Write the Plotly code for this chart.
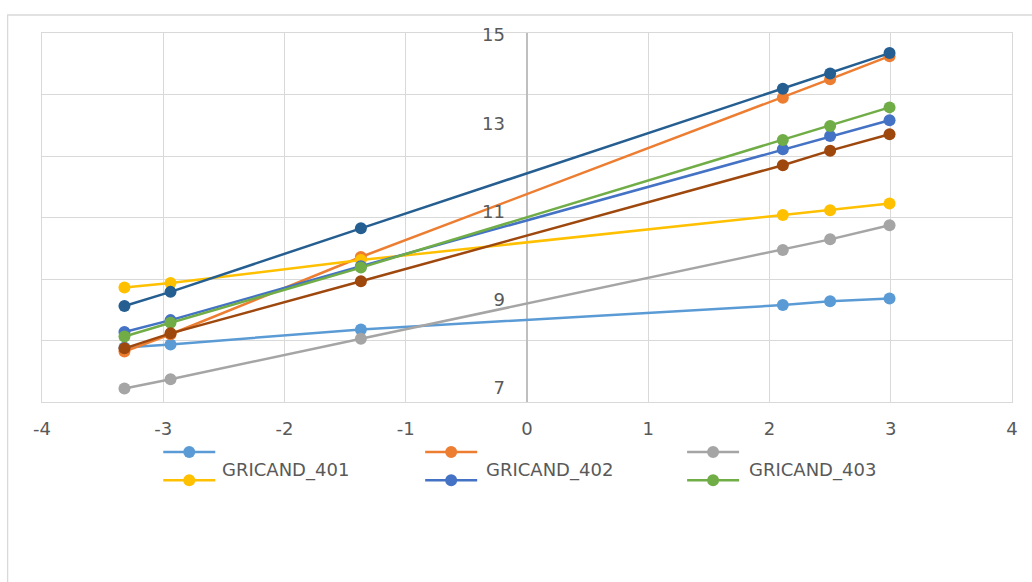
import plotly.graph_objects as go

# Shared x positions of the measurements
x_vals = [-3.32, -2.94, -1.37, 2.11, 2.50, 2.99]

# Series values (in draw order)
s_light_blue = [7.92, 7.99, 8.33, 8.88, 8.97, 9.03]
s_orange = [7.83, 8.22, 9.97, 13.58, 14.00, 14.52]
s_gray = [6.99, 7.20, 8.12, 10.13, 10.37, 10.69]
s_yellow = [9.28, 9.38, 9.90, 10.92, 11.03, 11.18]
s_blue = [8.27, 8.54, 9.76, 12.41, 12.71, 13.07]
s_green = [8.17, 8.48, 9.73, 12.62, 12.94, 13.36]
s_dark_blue = [8.86, 9.18, 10.62, 13.78, 14.13, 14.59]
s_brown = [7.90, 8.24, 9.42, 12.05, 12.38, 12.75]

series = [s_light_blue, s_orange, s_gray, s_yellow, s_blue, s_green, s_dark_blue, s_brown]
colors = ["#5B9BD5", "#ED7D31", "#A5A5A5", "#FFC000", "#4472C4", "#70AD47", "#255E91", "#9E480E"]

# Axis labels
x_ticks = [-4, -3, -2, -1, 0, 1, 2, 3, 4]
y_ticks = [7, 9, 11, 13, 15]
legend_labels = ["GRICAND_401", "GRICAND_402", "GRICAND_403"]

W, H = 1032, 582
L, R, T, B = 41.7, 1012.0, 33.0, 401.7  # plot-area edges in px

FONT = "DejaVu Sans"
TXT = "#595959"
GRID = "#d9d9d9"


def px_x(p):
    return (p - L) / (R - L)


def px_y(p):
    return (B - p) / (B - T)


fig = go.Figure()

for vals, col in zip(series, colors):
    fig.add_trace(go.Scatter(
        x=x_vals, y=vals, mode="lines+markers",
        line=dict(color=col, width=2.5),
        marker=dict(color=col, size=12, line=dict(width=0)),
        showlegend=False, hoverinfo="skip",
    ))

# empty trace so the grid axis is rendered
fig.add_trace(go.Scatter(x=[], y=[], yaxis="y2", showlegend=False))

shapes = []
# outer chart frame
shapes.append(dict(type="rect", xref="paper", yref="paper",
                   x0=px_x(7.3), x1=px_x(1060), y0=px_y(620), y1=px_y(15),
                   line=dict(color=GRID, width=1.3), fillcolor="rgba(0,0,0,0)", layer="below"))

# legend samples: three columns, series c on the top row and c+3 below it
col_starts = [163, 425, 687]
row_ys = [451.7, 480.0]
for c in range(3):
    for r in range(2):
        col = colors[c + 3 * r]
        x0 = col_starts[c]
        y = row_ys[r]
        shapes.append(dict(type="line", xref="paper", yref="paper",
                           x0=px_x(x0), x1=px_x(x0 + 52), y0=px_y(y), y1=px_y(y),
                           line=dict(color=col, width=2.5)))
        cx = x0 + 26
        shapes.append(dict(type="circle", xref="paper", yref="paper",
                           x0=px_x(cx - 6), x1=px_x(cx + 6), y0=px_y(y + 6), y1=px_y(y - 6),
                           line=dict(color=col, width=0), fillcolor=col))

annotations = []
text_starts = [220, 484, 747]
for lab, xs in zip(legend_labels, text_starts):
    annotations.append(dict(x=px_x(xs), y=px_y(469.3), xref="paper", yref="paper",
                            text=lab, showarrow=False, xanchor="left", yanchor="middle",
                            font=dict(family=FONT, size=18, color=TXT)))

fig.update_layout(
    width=W, height=H,
    margin=dict(l=L, r=W - R, t=T, b=H - B, pad=0),
    paper_bgcolor="white", plot_bgcolor="white",
    shapes=shapes, annotations=annotations,
    font=dict(family=FONT, size=18, color=TXT),
    xaxis=dict(
        range=[-4, 4], tickvals=x_ticks, ticktext=[str(v) for v in x_ticks],
        showgrid=True, gridcolor=GRID, gridwidth=1.4,
        zeroline=True, zerolinecolor="#bfbfbf", zerolinewidth=1.6,
        showline=True, mirror=True, linecolor=GRID, linewidth=1.4,
        ticks="", ticklabelstandoff=10,
        tickfont=dict(family=FONT, size=18, color=TXT),
    ),
    yaxis=dict(
        range=[15 - (B - 35) / 44.1, 15 + 2 / 44.1],
        tickvals=y_ticks, ticktext=[str(v) for v in y_ticks],
        showgrid=False, zeroline=False, showline=False,
        anchor="free", position=0.5, side="left",
        ticks="", ticklabelstandoff=22,
        tickfont=dict(family=FONT, size=18, color=TXT),
    ),
    yaxis2=dict(
        overlaying="y", range=[0, 6], dtick=1,
        showgrid=True, gridcolor=GRID, gridwidth=1.4,
        zeroline=False, showticklabels=False,
        showline=True, mirror=True, linecolor=GRID, linewidth=1.4,
    ),
)

fig.write_html("out.html")
